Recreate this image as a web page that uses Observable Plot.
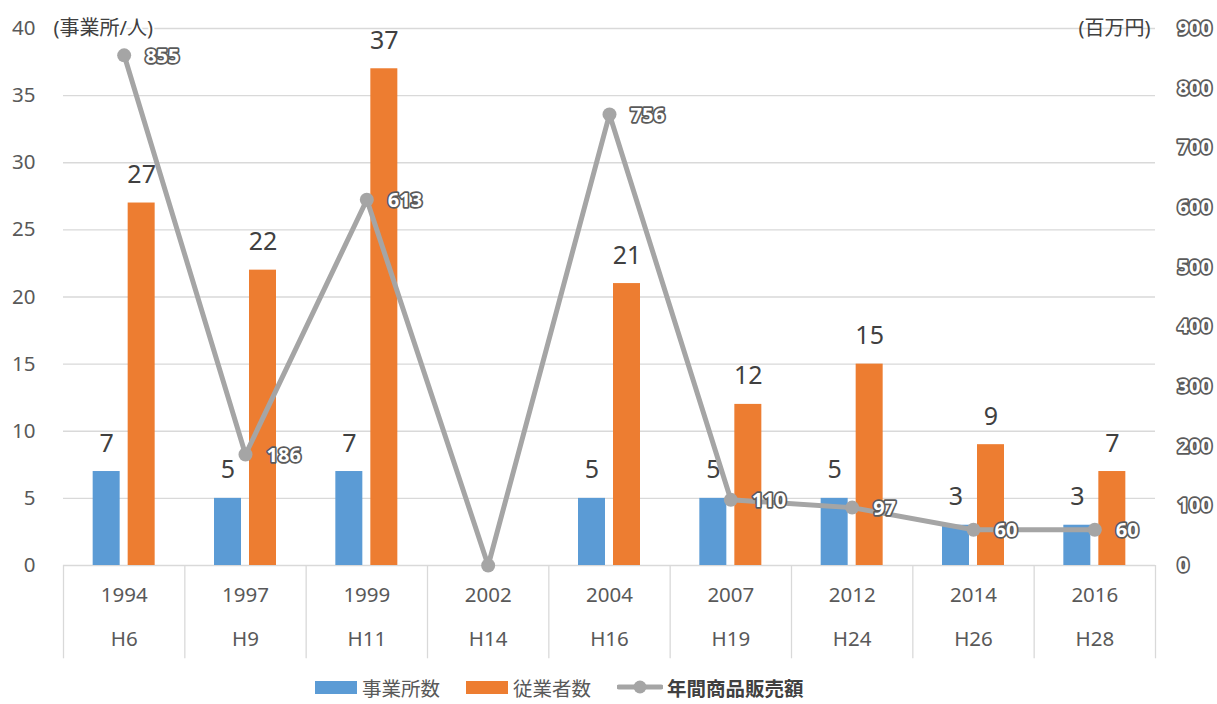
<!DOCTYPE html>
<html><head><meta charset="utf-8">
<script src="https://cdn.jsdelivr.net/npm/d3@7"></script>
<script src="https://cdn.jsdelivr.net/npm/@observablehq/plot@0.6"></script>
<style>
body{margin:0;background:#fff;font-family:"Noto Sans","Noto Sans CJK JP",sans-serif;}
#legend{display:flex;justify-content:flex-start;align-items:center;height:34px;font-size:19.5px;color:#595959;padding-left:315px;}
.it{display:flex;align-items:center;margin-right:26px}
.sw{width:42px;height:13px;margin-right:5px}
</style></head><body>
<div id="chart"></div>
<div id="legend">
 <div class="it"><div class="sw" style="background:#5b9bd5"></div>事業所数</div>
 <div class="it"><div class="sw" style="background:#ed7d31"></div>従業者数</div>
 <div class="it"><svg width="46" height="16" style="margin-right:4px"><line x1="2" y1="8" x2="44" y2="8" stroke="#a5a5a5" stroke-width="5" stroke-linecap="round"/><circle cx="23" cy="8" r="6.5" fill="#a5a5a5"/></svg><b style="color:#404040">年間商品販売額</b></div>
</div>
<script>
const years = ["1994","1997","1999","2002","2004","2007","2012","2014","2016"];
const eras = ["H6","H9","H11","H14","H16","H19","H24","H26","H28"];
const establishments = [7,5,7,null,5,5,5,3,3];
const employees = [27,22,37,null,21,12,15,9,7];
const sales = [855,186,613,0,756,110,97,60,60];
const leftTicks = [0,5,10,15,20,25,30,35,40];
const rightTicks = [0,100,200,300,400,500,600,700,800,900];

const k = 40/900;
const est = years.map((y,i)=>({year:y, v:establishments[i]})).filter(d=>d.v!=null);
const emp = years.map((y,i)=>({year:y, v:employees[i]})).filter(d=>d.v!=null);
const sal = years.map((y,i)=>({year:y, v:sales[i], s:sales[i]*k}));
const step = (1217-63-62)/years.length;
const font = '"Noto Sans","Noto Sans CJK JP",sans-serif';

const chart = Plot.plot({
  width:1217, height:670,
  marginTop:28, marginBottom:105, marginLeft:63, marginRight:62,
  style:{fontFamily:font, background:"#fff"},
  x:{domain:years, paddingInner:0.7775, paddingOuter:0.38875, align:0.5, round:false, axis:null},
  y:{domain:[0,40], axis:null},
  marks:[
    Plot.ruleY(leftTicks.filter(d=>d>0), {stroke:"#d9d9d9", strokeWidth:1.3}),
    Plot.ruleY([0], {stroke:"#d9d9d9", strokeWidth:1.3}),
    Plot.ruleX(years, {x:d=>d, y1:0, y2:-6.95, dx:-step/2, stroke:"#d9d9d9", strokeWidth:1.3, clip:false}),
    Plot.ruleX([years[years.length-1]], {x:d=>d, y1:0, y2:-6.95, dx:step/2, stroke:"#d9d9d9", strokeWidth:1.3, clip:false}),
    Plot.axisY({ticks:leftTicks, tickSize:0, tickPadding:28, fontSize:20.5, color:"#595959", label:null}),
    Plot.text(rightTicks, {y:d=>d*k, text:d=>String(d), frameAnchor:"right", dx:22, textAnchor:"start", fontSize:20, fontWeight:"bold", fill:"#fff", stroke:"#5a5a5a", strokeWidth:3.5, paintOrder:"stroke"}),
    Plot.axisX({tickSize:0, tickPadding:22, fontSize:20.5, color:"#595959", label:null}),
    Plot.axisX({tickSize:0, tickPadding:66, fontSize:20.5, color:"#595959", label:null, tickFormat:d=>eras[years.indexOf(d)]}),
    Plot.barY(est, {x:"year", y:"v", fill:"#5b9bd5", dx:-17.5}),
    Plot.barY(emp, {x:"year", y:"v", fill:"#ed7d31", dx:17.5}),
    Plot.text(est, {x:"year", y:"v", text:d=>String(d.v), dx:-17.5, dy:-28, fontSize:25, fill:"#404040"}),
    Plot.text(emp, {x:"year", y:"v", text:d=>String(d.v), dx:17.5, dy:-28, fontSize:25, fill:"#404040"}),
    Plot.line(sal, {x:"year", y:"s", stroke:"#a5a5a5", strokeWidth:5}),
    Plot.dot(sal, {x:"year", y:"s", r:7, fill:"#a5a5a5"}),
    Plot.text(sal.filter(d=>d.v>0), {x:"year", y:"s", text:d=>String(d.v), dx:21, dy:1, textAnchor:"start", fontSize:20, fontWeight:"bold", fill:"#fff", stroke:"#5a5a5a", strokeWidth:3.5, paintOrder:"stroke"}),
    Plot.text(["(事業所/人)"], {frameAnchor:"top-left", text:d=>d, dx:-10, dy:-8, textAnchor:"start", fontSize:20, fill:"#404040", stroke:"#fff", strokeWidth:4, paintOrder:"stroke"}),
    Plot.text(["(百万円)"], {frameAnchor:"top-right", text:d=>d, dx:-5, dy:-8, textAnchor:"end", fontSize:20, fill:"#404040"})
  ]
});
document.getElementById("chart").appendChild(chart);
</script>
</body></html>
